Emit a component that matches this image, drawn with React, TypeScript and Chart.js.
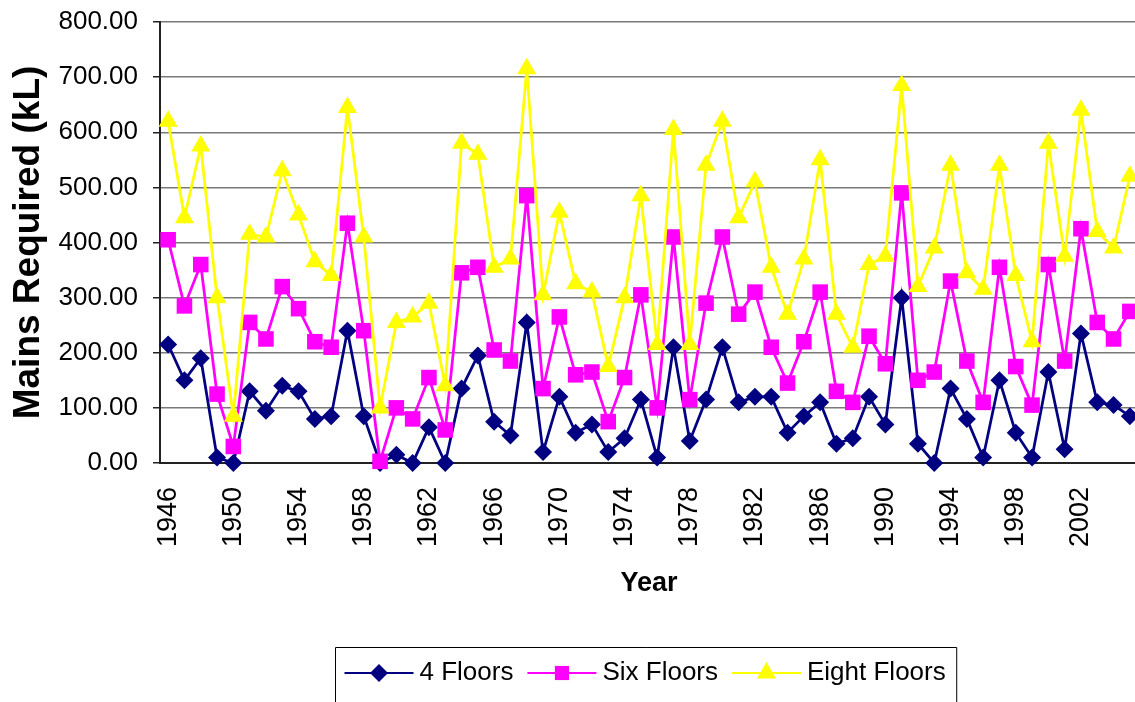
import React, { useEffect, useRef } from "react";
import { Chart, registerables } from "chart.js";

Chart.register(...registerables);

const years = [
  "1946", "1947", "1948", "1949", "1950", "1951", "1952", "1953", "1954", "1955",
  "1956", "1957", "1958", "1959", "1960", "1961", "1962", "1963", "1964", "1965",
  "1966", "1967", "1968", "1969", "1970", "1971", "1972", "1973", "1974", "1975",
  "1976", "1977", "1978", "1979", "1980", "1981", "1982", "1983", "1984", "1985",
  "1986", "1987", "1988", "1989", "1990", "1991", "1992", "1993", "1994", "1995",
  "1996", "1997", "1998", "1999", "2000", "2001", "2002", "2003", "2004", "2005",
];

const fourFloors = [
  215, 150, 190, 10, 0, 130, 95, 140, 130, 80, 85, 240, 85, 0, 15, 0, 65, 0, 135, 195,
  75, 50, 255, 20, 120, 55, 70, 20, 45, 115, 10, 210, 40, 115, 210, 110, 120, 120, 55, 85,
  110, 35, 45, 120, 70, 300, 35, 0, 135, 80, 10, 150, 55, 10, 165, 25, 235, 110, 105, 85,
];

const sixFloors = [
  405, 285, 360, 125, 30, 255, 225, 320, 280, 220, 210, 435, 240, 3, 100, 80, 155, 60, 345, 355,
  205, 185, 485, 135, 265, 160, 165, 75, 155, 305, 100, 410, 115, 290, 410, 270, 310, 210, 145, 220,
  310, 130, 110, 230, 180, 490, 150, 165, 330, 185, 110, 355, 175, 105, 360, 185, 425, 255, 225, 275,
];

const eightFloors = [
  620, 445, 575, 300, 85, 415, 410, 530, 450, 365, 340, 645, 410, 100, 255, 265, 290, 140, 580, 560,
  355, 370, 715, 305, 455, 325, 310, 175, 300, 485, 215, 605, 215, 540, 620, 445, 510, 355, 270, 370,
  550, 270, 210, 360, 375, 685, 320, 390, 540, 345, 315, 540, 340, 220, 580, 375, 640, 420, 390, 520,
];

const seriesNames = ["4 Floors", "Six Floors", "Eight Floors"];
const seriesColors = ["#000080", "#FF00FF", "#FFFF00"];
const seriesMarkers = ["rectRot", "rect", "triangle"];
const yTicks = [0, 100, 200, 300, 400, 500, 600, 700, 800];

const FONT = "'Liberation Sans', Arial, sans-serif";

function drawMarker(ctx: CanvasRenderingContext2D, style: string, x: number, y: number, r: number, color: string) {
  ctx.save();
  ctx.fillStyle = color;
  ctx.beginPath();
  if (style === "rectRot") {
    ctx.moveTo(x, y - r);
    ctx.lineTo(x + r, y);
    ctx.lineTo(x, y + r);
    ctx.lineTo(x - r, y);
  } else if (style === "rect") {
    const h = r * Math.SQRT1_2;
    ctx.rect(x - h, y - h, 2 * h, 2 * h);
  } else {
    const a = (r * Math.sqrt(3)) / 2;
    ctx.moveTo(x, y - r);
    ctx.lineTo(x + a, y + r / 2);
    ctx.lineTo(x - a, y + r / 2);
  }
  ctx.closePath();
  ctx.fill();
  ctx.restore();
}

const excelLegend = {
  id: "excelLegend",
  afterDraw(chart: any) {
    const ctx: CanvasRenderingContext2D = chart.ctx;
    const datasets = chart.data.datasets;
    const lineLen = 69;
    const gapText = 6;
    const gapItem = 14;
    const padL = 9;
    const padR = 11;
    const centerX = 646;
    const top = 647;
    const cy = 673;
    ctx.save();
    ctx.font = `26px ${FONT}`;
    const order = [...datasets].sort((a: any, b: any) => a.legendIndex - b.legendIndex);
    const widths = order.map((d: any) => ctx.measureText(d.label).width);
    let total = padL + padR;
    widths.forEach((w: number, i: number) => {
      total += lineLen + gapText + w + (i < widths.length - 1 ? gapItem : 0);
    });
    const left = Math.round(centerX - total / 2) + 0.5;
    ctx.strokeStyle = "#000";
    ctx.lineWidth = 1;
    ctx.beginPath();
    ctx.moveTo(left, 720);
    ctx.lineTo(left, top + 0.5);
    ctx.lineTo(left + total, top + 0.5);
    ctx.lineTo(left + total, 720);
    ctx.stroke();
    let x = left + padL;
    order.forEach((d: any, i: number) => {
      ctx.strokeStyle = d.borderColor;
      ctx.lineWidth = 2;
      ctx.beginPath();
      ctx.moveTo(x, cy);
      ctx.lineTo(x + lineLen, cy);
      ctx.stroke();
      drawMarker(ctx, d.pointStyle, x + lineLen / 2, cy, d.legendMarker, d.borderColor);
      x += lineLen + gapText;
      ctx.fillStyle = "#000";
      ctx.textAlign = "left";
      ctx.textBaseline = "middle";
      ctx.fillText(d.label, x, cy);
      x += widths[i] + gapItem;
    });
    ctx.restore();
  },
};

export default function App() {
  const canvasRef = useRef<HTMLCanvasElement | null>(null);

  useEffect(() => {
    if (!canvasRef.current) return;
    const values = [fourFloors, sixFloors, eightFloors];
    const radii = [9, 11, 11];
    const legendRadii = [9, 10, 11];
    const chart = new Chart(canvasRef.current, {
      type: "line",
      data: {
        labels: years,
        datasets: values.map((v, i) => ({
          label: seriesNames[i],
          data: v,
          borderColor: seriesColors[i],
          backgroundColor: seriesColors[i],
          pointBackgroundColor: seriesColors[i],
          pointBorderColor: seriesColors[i],
          pointBorderWidth: 0,
          pointStyle: seriesMarkers[i],
          pointRadius: radii[i],
          borderWidth: 2.75,
          tension: 0,
          fill: false,
          clip: false,
          order: values.length - 1 - i,
          legendIndex: i,
          legendMarker: legendRadii[i],
        })) as any,
      },
      options: {
        responsive: false,
        animation: false,
        events: [],
        layout: { autoPadding: false, padding: { top: 22, right: 0, bottom: 102, left: 0 } },
        plugins: {
          legend: { display: false },
          tooltip: { enabled: false },
        },
        scales: {
          x: {
            type: "category",
            offset: true,
            grid: { display: false, drawTicks: false },
            border: { display: true, color: "#222", width: 2 },
            ticks: {
              autoSkip: false,
              minRotation: 90,
              maxRotation: 90,
              padding: 24,
              color: "#000",
              font: { family: FONT, size: 27 },
              callback: (_v: any, idx: number) => (idx % 4 === 0 ? years[idx] : ""),
            },
            title: {
              display: true,
              text: "Year",
              color: "#000",
              font: { family: FONT, size: 27, weight: "bold" },
              padding: { top: 0, bottom: 0 },
            },
            afterFit: (scale: any) => {
              scale.height = 137;
              scale.paddingLeft = 0;
              scale.paddingRight = 0;
            },
          },
          y: {
            min: 0,
            max: 800,
            afterBuildTicks: (scale: any) => {
              scale.ticks = yTicks.map((v) => ({ value: v }));
            },
            grid: { color: "#7a7a7a", lineWidth: 1.5, tickLength: 7, tickColor: "#222", tickWidth: 1.5 },
            border: { display: true, color: "#222", width: 2 },
            ticks: {
              padding: 15,
              color: "#000",
              font: { family: FONT, size: 26 },
              callback: (v: any) => Number(v).toFixed(2),
            },
            title: {
              display: true,
              text: "Mains Required (kL)",
              color: "#000",
              font: { family: FONT, size: 37, weight: "bold" },
              padding: { top: 7, bottom: 0 },
            },
            afterFit: (scale: any) => {
              scale.width = 160;
              scale.paddingTop = 0;
              scale.paddingBottom = 0;
            },
          },
        },
      },
      plugins: [excelLegend],
    });
    return () => chart.destroy();
  }, []);

  return (
    <div style={{ position: "fixed", left: 0, top: 0, width: 1135, height: 702, overflow: "hidden", background: "#fff" }}>
      <canvas ref={canvasRef} width={1138} height={702} style={{ display: "block" }} />
    </div>
  );
}
